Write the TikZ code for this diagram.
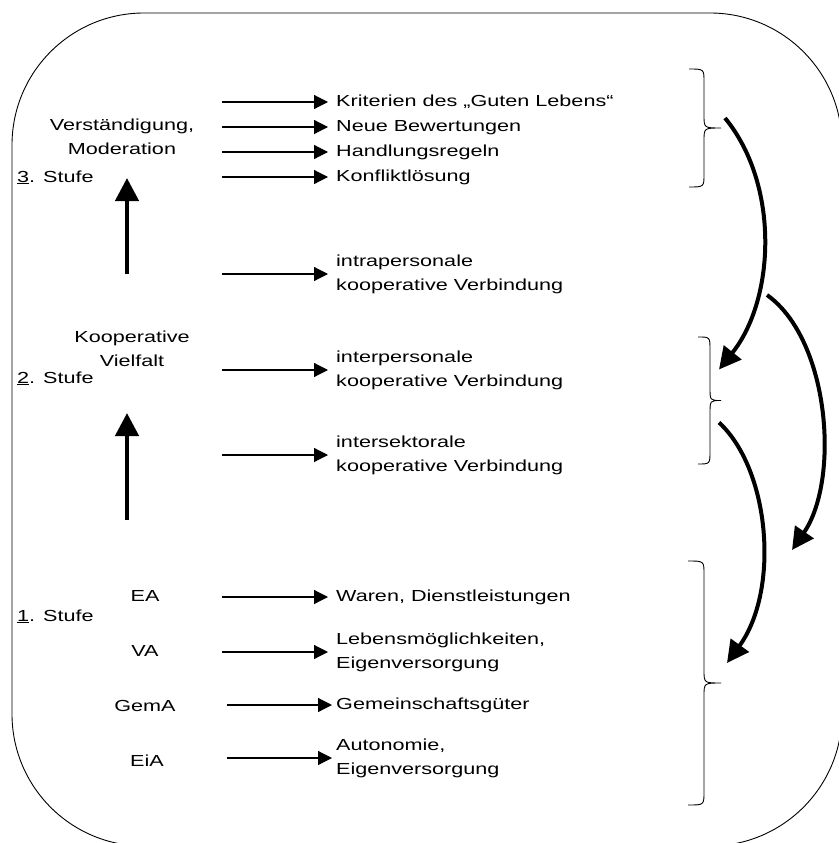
\documentclass[tikz,border=0pt]{standalone}
\usepackage{fontspec}
\usepackage{graphicx}
\setmainfont{Liberation Sans}
\usetikzlibrary{arrows.meta}
% text of the picture is set wider than normal
\newcommand\widetext[1]{\scalebox{1.35}[1]{#1}}

\begin{document}
\begin{tikzpicture}
        [x=1pt,y=-1pt,
        textdecorate/.style={inner sep=0pt,font=\fontsize{16}{24}\selectfont},
        linedecorate/.style={textdecorate,text height=11.5pt,text depth=3.5pt},
        thinarrow/.style={-{Triangle[length=14pt,width=14pt]},line width=1.2pt},
        thickarrow/.style={-{Triangle[length=23pt,width=23pt]},line width=4.5pt},
        bendarrow/.style={-{Triangle[length=22pt,width=22pt]},line width=4pt},
        bracedecorate/.style={line width=0.9pt}]
        \useasboundingbox (0,0) rectangle (838,843);
        %% frame
        \draw[line width=0.9pt,rounded corners=132pt] (12,13) rectangle (842,846);

        %% stages on the left
        \foreach \nodename/\y/\num in {stage3/178/3, stage2/379/2, stage1/617/1}
        {
          \node (\nodename) at (17,\y) [linedecorate,anchor=west] {\widetext{\underline{\num}. Stufe}};
        }
        \node (verst) at (122,137) [textdecorate,align=center]
          {\widetext{Verständigung,}\\\widetext{Moderation}};
        \node (koop) at (132,349) [textdecorate,align=center]
          {\widetext{Kooperative}\\\widetext{Vielfalt}};
        \foreach \nodename/\x/\y in {EA/145/597, VA/145/652, GemA/145/707, EiA/147/762}
        {
          \node (\nodename) at (\x,\y) [linedecorate] {\widetext{\nodename}};
        }

        %% results on the right
        \foreach \nodename/\y/\text in {krit/102/{Kriterien des „Guten Lebens“},
          bew/127/{Neue Bewertungen}, regeln/152/{Handlungsregeln},
          konflikt/177/{Konfliktlösung}, waren/597/{Waren, Dienstleistungen},
          gemgut/705/{Gemeinschaftsgüter}}
        {
          \node (\nodename) at (336,\y) [linedecorate,anchor=west] {\widetext{\text}};
        }
        \foreach \nodename/\y/\first/\second in {intra/274/intrapersonale/{kooperative Verbindung},
          inter/370/interpersonale/{kooperative Verbindung},
          sektor/455/intersektorale/{kooperative Verbindung},
          leben/652/{Lebensmöglichkeiten,}/Eigenversorgung,
          autonom/758/{Autonomie,}/Eigenversorgung}
        {
          \node (\nodename) at (336,\y) [textdecorate,align=left,anchor=west]
            {\widetext{\first}\\\widetext{\second}};
        }

        %% thin arrows
        \foreach \target/\sx/\cut in {krit/222/8, bew/222/8, regeln/222/8, konflikt/222/8,
          intra/222/8, inter/222/8, sektor/222/8, waren/222/8, leben/222/8,
          gemgut/227/4, autonom/227/4}
        {
          \coordinate (\target-from) at (\target.west -| \sx,0);
          \draw[thinarrow,shorten >=\cut pt] (\target-from) -- (\target.west);
        }

        %% thick arrows between the stages
        \coordinate (up3-from) at (127,274);
        \coordinate (up3-to) at (127,178);
        \coordinate (up2-from) at (127,520);
        \coordinate (up2-to) at (127,413);
        \draw[thickarrow] (up3-from) -- (up3-to);
        \draw[thickarrow] (up2-from) -- (up2-to);

        %% braces
        \foreach \bname/\top/\bot/\ex/\sx in {brace3/69/187/689/704,
          brace2/337/464/698/710, brace1/561/805/688/704}
        {
          \pgfmathsetmacro\mid{(\top+\bot)/2}
          \draw[bracedecorate] (\ex,\top) .. controls (\sx,\top) .. (\sx,{\top+13})
            -- (\sx,{\mid-13}) .. controls (\sx,\mid) .. (721,\mid)
            .. controls (\sx,\mid) .. (\sx,{\mid+13})
            -- (\sx,{\bot-13}) .. controls (\sx,\bot) .. (\ex,\bot);
          \coordinate (\bname) at (721,\mid);
        }

        %% bent arrows
        \coordinate (bendA-from) at ([shift={(4,-10)}]brace3);
        \coordinate (bendA-to) at ([shift={(-2,-31)}]brace2);
        \coordinate (bendB-from) at (767,295);
        \coordinate (bendB-to) at (792,550);
        \coordinate (bendC-from) at ([shift={(-2,22)}]brace2);
        \coordinate (bendC-to) at ([shift={(6,-20)}]brace1);
        \draw[bendarrow] (bendA-from) .. controls +(55,67) and +(56,-70) .. (bendA-to);
        \draw[bendarrow] (bendB-from) .. controls +(63,45) and +(48,-70) .. (bendB-to);
        \draw[bendarrow] (bendC-from) .. controls +(51,47) and +(53,-73) .. (bendC-to);
\end{tikzpicture}
\end{document}
